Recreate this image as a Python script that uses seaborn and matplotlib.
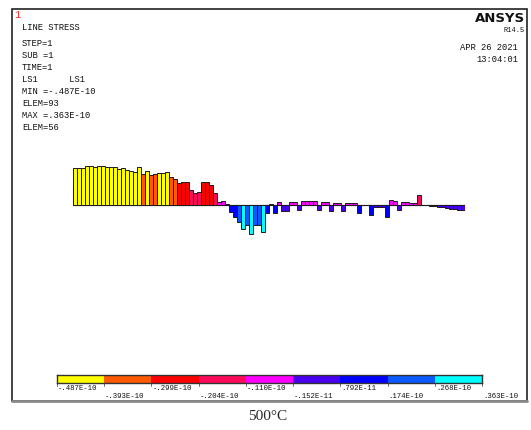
import numpy as np
import pandas as pd
import matplotlib
matplotlib.use('Agg')
import matplotlib.pyplot as plt
import seaborn as sns
from matplotlib.patches import Rectangle

# Datos: tension de linea por elemento (unidades E-10)
stress = [
    -0.458, -0.458, -0.455, -0.480, -0.480, -0.467, -0.487, -0.487, -0.475, -0.467,
    -0.467, -0.442, -0.455, -0.434, -0.418, -0.405, -0.467, -0.378, -0.425, -0.366,
    -0.378, -0.396, -0.397, -0.405, -0.351, -0.318, -0.269, -0.281, -0.289, -0.186,
    -0.145, -0.157, -0.281, -0.289, -0.248, -0.145, -0.041, -0.050, -0.009, 0.081,
    0.143, 0.211, 0.297, 0.248, 0.363, 0.254, 0.248, 0.338, 0.103, -0.012,
    0.095, -0.033, 0.071, 0.071, -0.041, -0.041, 0.062, -0.050, -0.050, -0.050,
    -0.050, 0.058, -0.041, -0.041, 0.071, -0.029, -0.029, 0.074, -0.021, -0.021,
    -0.021, 0.103, -0.006, 0.002, 0.124, 0.028, 0.028, 0.028, 0.152, -0.062,
    -0.053, 0.062, -0.041, -0.033, -0.029, -0.021, -0.124, -0.006, 0.005, 0.010,
    0.015, 0.022, 0.030, 0.038, 0.045, 0.052, 0.060, 0.066,
]

# Leyenda de contornos
level_labels = ['-.487E-10', '-.393E-10', '-.299E-10', '-.204E-10', '-.110E-10',
                '-.152E-11', '.792E-11', '.174E-10', '.268E-10', '.363E-10']
level_values = [-0.487, -0.393, -0.299, -0.204, -0.110, -0.0152, 0.0792, 0.174, 0.268, 0.363]
level_colors = ['#ffff00', '#ff5a00', '#ff0000', '#ff0a5a', '#ff00ff',
                '#4a00f0', '#0000ff', '#0a5aff', '#00ffff']

header_lines = ['LINE STRESS', 'STEP=1', 'SUB =1', 'TIME=1', 'LS1      LS1',
                'MIN =-.487E-10', 'ELEM=93', 'MAX =.363E-10', 'ELEM=56']

W, H = 531, 430
MONO = 'Liberation Mono'


def px_axes(fig, x0, y0, x1, y1):
    # ejes definidos en pixeles de la imagen (origen arriba a la izquierda)
    return fig.add_axes([x0 / W, 1 - y1 / H, (x1 - x0) / W, (y1 - y0) / H])


def color_for(v):
    idx = np.searchsorted(level_values, v, side='right') - 1
    return level_colors[int(np.clip(idx, 0, 8))]


df = pd.DataFrame({'elem': np.arange(len(stress)), 'stress': stress})
df['plot_h'] = -df['stress']  # ANSYS dibuja la tension invertida
bar_colors = [color_for(v) for v in df['stress']]

sns.set_style('white')
fig = plt.figure(figsize=(W / 100, H / 100), dpi=100)
fig.patch.set_facecolor('white')

# Marco de la ventana
frame = fig.add_axes([0, 0, 1, 1])
frame.set_xlim(0, W)
frame.set_ylim(H, 0)
frame.axis('off')
frame.add_patch(Rectangle((12, 9), 515, 392, fill=False, edgecolor='#222222', lw=1.2))
frame.plot([12, 527], [401, 401], color='#8a8a8a', lw=2)

# Barras
scale = 80.7
base_y = 205
ax = px_axes(fig, 73, 140, 465, 260)
sns.barplot(data=df, x='elem', y='plot_h', hue='elem', palette=bar_colors,
            legend=False, width=1.0, saturation=1, edgecolor='#1a1a1a',
            linewidth=0.7, ax=ax)
ax.axhline(0, color='#555555', lw=0.9, zorder=0)
ax.set_xlim(-0.5, len(stress) - 0.5)
ax.set_ylim(-(260 - base_y) / scale, (base_y - 140) / scale)
ax.axis('off')
ax.patch.set_alpha(0)

# Triada de ejes
frame.plot([74, 74], [186, 205], color='#6a2cff', lw=1.5)
frame.text(76, 179, 'Y', fontsize=6, color='#b070a0', family=MONO, ha='center', va='center')
frame.text(96, 199, 'X', fontsize=6, color='#333333', family=MONO, ha='center', va='center')

# Textos de cabecera
frame.text(14, 15, '1', color='#ff3030', fontsize=7.5, family=MONO, ha='left', va='center')
ys = [27, 44, 56, 68, 80, 92, 104, 116, 128]
for line, y in zip(header_lines, ys):
    frame.text(22, y, line, fontsize=6.3, family=MONO, ha='left', va='center', color='#111111')

frame.text(525, 18, 'ANSYS', fontsize=9.5, fontweight='bold', family='DejaVu Sans',
           ha='right', va='center', color='#111111')
frame.text(525, 30, 'R14.5', fontsize=5, family=MONO, ha='right', va='center', color='#111111')
frame.text(518, 48, 'APR 26 2021', fontsize=6.3, family=MONO, ha='right', va='center', color='#111111')
frame.text(518, 60, '13:04:01', fontsize=6.3, family=MONO, ha='right', va='center', color='#111111')

# Barra de colores
cax = px_axes(fig, 57, 375, 482, 383)
cax.bar(np.arange(9), np.ones(9), width=1, align='edge', color=level_colors, linewidth=0)
cax.set_xlim(0, 9)
cax.set_ylim(0, 1)
cax.set_xticks([])
cax.set_yticks([])
for s in cax.spines.values():
    s.set_color('#333333')
    s.set_linewidth(1)

x_ticks = np.linspace(57, 482, 10)
for i, (lab, xt) in enumerate(zip(level_labels, x_ticks)):
    frame.plot([xt, xt], [383, 386], color='#555555', lw=0.6)
    y = 388 if i % 2 == 0 else 396
    frame.text(xt + 1, y, lab, fontsize=5.3, family=MONO, ha='left', va='center', color='#111111')

# Pie de figura
frame.text(268, 417, '500°C', fontsize=11, family='Liberation Serif', ha='center', va='center')

fig.savefig('out.png', dpi=100, facecolor='white')
plt.close(fig)
